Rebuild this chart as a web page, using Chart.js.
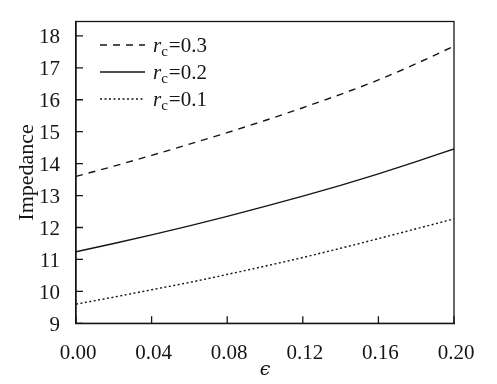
<!DOCTYPE html>
<html lang="en">
<head>
    <meta charset="UTF-8">
    <title>Impedance vs epsilon</title>
    <script src="https://cdn.jsdelivr.net/npm/chart.js"></script>
    <style>
        html, body { margin: 0; padding: 0; background: #fff; }
        #wrap { width: 497px; height: 384px; }
    </style>
</head>
<body>
    <div id="wrap"><canvas id="impChart"></canvas></div>

    <script>
        // values
        const epsValues = [0.00, 0.02, 0.04, 0.06, 0.08, 0.10, 0.12, 0.14, 0.16, 0.18, 0.20];
        const rc03 = [13.60, 13.92, 14.26, 14.61, 14.97, 15.35, 15.75, 16.17, 16.62, 17.13, 17.68];
        const rc02 = [11.24, 11.50, 11.77, 12.05, 12.35, 12.66, 12.98, 13.32, 13.68, 14.06, 14.46];
        const rc01 = [9.60, 9.82, 10.05, 10.28, 10.53, 10.79, 11.06, 11.35, 11.65, 11.96, 12.27];
        const rcLabels = ['0.3', '0.2', '0.1'];
        const xTicks = [0.00, 0.04, 0.08, 0.12, 0.16, 0.20];
        const yTicks = [9, 10, 11, 12, 13, 14, 15, 16, 17, 18];

        const serif = '"Liberation Serif", "DejaVu Serif", serif';
        const ink = '#151515';

        const toPoints = arr => arr.map((v, i) => ({ x: epsValues[i], y: v }));

        // closed frame plus inward tick marks
        const frameTicks = {
            id: 'frameTicks',
            afterDatasetsDraw(chart) {
                const { ctx, chartArea: a, scales: { x, y } } = chart;
                ctx.save();
                ctx.strokeStyle = ink;
                ctx.lineWidth = 1.3;
                ctx.setLineDash([]);
                ctx.strokeRect(a.left, a.top, a.right - a.left, a.bottom - a.top);
                ctx.beginPath();
                x.ticks.forEach(t => {
                    const px = x.getPixelForValue(t.value);
                    ctx.moveTo(px, a.bottom);
                    ctx.lineTo(px, a.bottom - 7);
                });
                y.ticks.forEach(t => {
                    const py = y.getPixelForValue(t.value);
                    ctx.moveTo(a.left, py);
                    ctx.lineTo(a.left + 7, py);
                });
                ctx.stroke();
                ctx.restore();
            }
        };

        // legend with subscript r_c
        const rcLegend = {
            id: 'rcLegend',
            afterDraw(chart) {
                const { ctx, chartArea: a } = chart;
                ctx.save();
                chart.data.datasets.forEach((ds, i) => {
                    const yy = a.top + 23.5 + i * 27;
                    ctx.strokeStyle = ds.borderColor;
                    ctx.lineWidth = ds.borderWidth;
                    ctx.setLineDash(ds.borderDash || []);
                    ctx.beginPath();
                    ctx.moveTo(a.left + 24, yy);
                    ctx.lineTo(a.left + 69, yy);
                    ctx.stroke();
                    ctx.setLineDash([]);

                    const base = yy + 6.5;
                    let tx = a.left + 77;
                    ctx.fillStyle = ink;
                    ctx.textBaseline = 'alphabetic';
                    ctx.textAlign = 'left';
                    ctx.font = 'italic 21px ' + serif;
                    ctx.fillText('r', tx, base);
                    tx += ctx.measureText('r').width;
                    ctx.font = '15px ' + serif;
                    ctx.fillText('c', tx, base + 4);
                    tx += ctx.measureText('c').width + 1;
                    ctx.font = '21px ' + serif;
                    ctx.fillText('=' + rcLabels[i], tx, base);
                });
                ctx.restore();
            }
        };

        const common = { borderColor: ink, borderWidth: 1.4, pointRadius: 0, fill: false, cubicInterpolationMode: 'monotone' };

        new Chart(document.getElementById('impChart'), {
            type: 'line',
            data: {
                datasets: [
                    { ...common, label: 'rc=0.3', data: toPoints(rc03), borderDash: [7, 6] },
                    { ...common, label: 'rc=0.2', data: toPoints(rc02), borderDash: [] },
                    { ...common, label: 'rc=0.1', data: toPoints(rc01), borderDash: [2, 2.5] }
                ]
            },
            options: {
                responsive: true,
                maintainAspectRatio: false,
                animation: false,
                layout: { padding: { left: 0, top: 21.5, right: 43, bottom: 0 } },
                plugins: {
                    legend: { display: false },
                    tooltip: { enabled: false }
                },
                scales: {
                    x: {
                        type: 'linear',
                        min: 0,
                        max: 0.2,
                        afterBuildTicks: s => { s.ticks = xTicks.map(v => ({ value: v })); },
                        afterFit: s => { s.height = 60.7; },
                        grid: { display: false },
                        border: { display: true, color: ink, width: 1.3 },
                        ticks: {
                            color: ink,
                            font: { family: serif, size: 21 },
                            padding: 10,
                            labelOffset: 2,
                            maxRotation: 0,
                            callback: v => Number(v).toFixed(2)
                        },
                        title: {
                            display: true,
                            text: 'ϵ',
                            color: ink,
                            font: { family: '"DejaVu Serif", serif', size: 19, style: 'italic' },
                            padding: { top: 0, bottom: 3 }
                        }
                    },
                    y: {
                        min: 9,
                        max: 18.45,
                        afterBuildTicks: s => { s.ticks = yTicks.map(v => ({ value: v })); },
                        afterFit: s => { s.width = 76; },
                        grid: { display: false },
                        border: { display: true, color: ink, width: 1.3 },
                        ticks: {
                            color: ink,
                            font: { family: serif, size: 21 },
                            padding: 8,
                            labelOffset: 2
                        },
                        title: {
                            display: true,
                            text: 'Impedance',
                            color: ink,
                            font: { family: serif, size: 22 },
                            padding: { top: 14, bottom: 0 }
                        }
                    }
                }
            },
            plugins: [frameTicks, rcLegend]
        });
    </script>
</body>
</html>
